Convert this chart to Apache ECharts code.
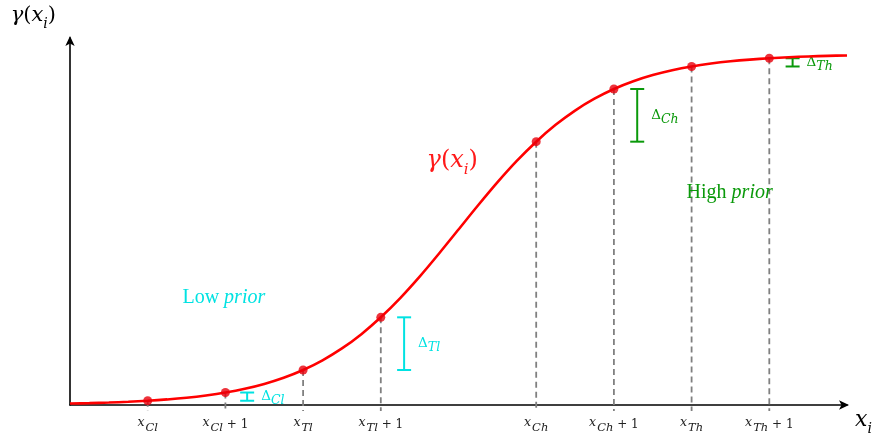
<!DOCTYPE html>
<html>
<head>
<meta charset="utf-8">
<script src="https://cdn.jsdelivr.net/npm/echarts@6/dist/echarts.min.js"></script>
<style>
  html, body { margin: 0; padding: 0; background: #fff; }
  #chart { width: 885px; height: 434px; }
</style>
</head>
<body>
<div id="chart"></div>
<script>
// Sigmoid response gamma(x_i), sampled every quarter step
const xSamples = [0, 0.25, 0.5, 0.75, 1, 1.25, 1.5, 1.75, 2, 2.25, 2.5, 2.75, 3, 3.25, 3.5, 3.75,
                  4, 4.25, 4.5, 4.75, 5, 5.25, 5.5, 5.75, 6, 6.25, 6.5, 6.75, 7, 7.25, 7.5, 7.75,
                  8, 8.25, 8.5, 8.75, 9, 9.25, 9.5, 9.75, 10];
const gammaSamples = [0.0039, 0.0051, 0.0067, 0.0088, 0.0116, 0.0152, 0.0199, 0.0261, 0.0340, 0.0443,
                      0.0575, 0.0743, 0.0954, 0.1218, 0.1541, 0.1930, 0.2389, 0.2914, 0.3499, 0.4129,
                      0.4782, 0.5435, 0.6065, 0.6650, 0.7175, 0.7634, 0.8023, 0.8346, 0.8610, 0.8821,
                      0.8989, 0.9121, 0.9224, 0.9303, 0.9365, 0.9412, 0.9448, 0.9476, 0.9497, 0.9513,
                      0.9525];

// Marked positions on the x axis and their tick labels
const markX = [1, 2, 3, 4, 6, 7, 8, 9];
const markGamma = [0.0116, 0.0340, 0.0954, 0.2389, 0.7175, 0.8610, 0.9224, 0.9448];
const tickBase = ['Cl', 'Cl', 'Tl', 'Tl', 'Ch', 'Ch', 'Th', 'Th'];
const tickPlusOne = [false, true, false, true, false, true, false, true];

// Delta brackets: x position, lower gamma, upper gamma, subscript, colour
const deltaX = [2.28, 4.3, 7.3, 9.3];
const deltaLow = [0.0116, 0.0954, 0.7175, 0.9224];
const deltaHigh = [0.0340, 0.2389, 0.8610, 0.9448];
const deltaSub = ['Cl', 'Tl', 'Ch', 'Th'];
const deltaColor = ['#00e2e2', '#00e2e2', '#0a990a', '#0a990a'];

// Free text annotations
const noteX = [4.92, 1.98, 8.49];
const noteY = [0.66, 0.292, 0.578];
const noteKind = ['curve', 'low', 'high'];

const MATH = '"DejaVu Serif", "Liberation Serif", serif';
const SERIF = '"Liberation Serif", "DejaVu Serif", serif';
const CYAN = '#00e2e2';
const GREEN = '#0a990a';

const chart = echarts.init(document.getElementById('chart'));

const curveData = xSamples.map((x, i) => [x, gammaSamples[i]]);
const markData = markX.map((x, i) => [x, markGamma[i]]);
const deltaData = deltaX.map((x, i) => [x, deltaLow[i], deltaHigh[i], i]);
const noteData = noteX.map((x, i) => [x, noteY[i], i]);

// rich styles for "base + subscript" math text; subscripts sit on the line bottom,
// base glyphs are lifted by bottom padding
function mathRich(size, subSize, lift, color, key) {
  const c = {};
  c[key] = color;
  return {
    g: Object.assign({ fontFamily: MATH, fontStyle: 'italic', fontSize: size, verticalAlign: 'bottom', padding: [0, 0, lift, 0] }, c),
    u: Object.assign({ fontFamily: MATH, fontSize: size, verticalAlign: 'bottom', padding: [0, 0, lift, 0] }, c),
    x: Object.assign({ fontFamily: MATH, fontStyle: 'italic', fontSize: size, verticalAlign: 'bottom', padding: [0, 0, lift, 0] }, c),
    s: Object.assign({ fontFamily: MATH, fontStyle: 'italic', fontSize: subSize, verticalAlign: 'bottom', padding: [0, 0, 0, 0] }, c)
  };
}

const tickRich = {
  x: { fontFamily: MATH, fontStyle: 'italic', fontSize: 12.5, color: '#222', verticalAlign: 'bottom', padding: [0, 0, 5, 0] },
  s: { fontFamily: MATH, fontStyle: 'italic', fontSize: 11.5, color: '#222', verticalAlign: 'bottom', padding: [0, 0, 0, 1] },
  p: { fontFamily: MATH, fontSize: 12, color: '#222', verticalAlign: 'bottom', padding: [0, 0, 3, 0] }
};

const option = {
  animation: false,
  grid: { left: 70, right: 38, top: 38, bottom: 29, outerBoundsMode: 'none', containLabel: false },
  xAxis: {
    type: 'value',
    min: 0, max: 10, interval: 1,
    name: '{x|x}{s|i}',
    nameLocation: 'end',
    nameGap: 8,
    nameTextStyle: {
      verticalAlign: 'top',
      padding: [4, 0, 0, 0],
      rich: mathRich(22, 14, 5, '#000', 'color')
    },
    axisLine: { show: true, symbol: ['none', 'arrow'], symbolSize: [7, 10], symbolOffset: [0, 2],
                lineStyle: { color: '#000', width: 1.6 } },
    axisTick: { show: false },
    splitLine: { show: false },
    axisLabel: {
      margin: 11,
      formatter: function (v) {
        const i = markX.indexOf(v);
        if (i < 0) return '';
        return '{x|x}{s|' + tickBase[i] + '}' + (tickPlusOne[i] ? '{p| + 1}' : '');
      },
      rich: tickRich
    }
  },
  yAxis: {
    type: 'value',
    min: 0, max: 1,
    name: '{g|γ}{u|(}{x|x}{s|i}{u|)}',
    nameLocation: 'end',
    nameGap: 7,
    nameTextStyle: {
      align: 'right',
      padding: [0, 14, 0, 0],
      rich: mathRich(21, 14, 5, '#000', 'color')
    },
    axisLine: { show: true, symbol: ['none', 'arrow'], symbolSize: [7, 10], symbolOffset: [0, 2],
                lineStyle: { color: '#000', width: 1.6 } },
    axisTick: { show: false },
    axisLabel: { show: false },
    splitLine: { show: false }
  },
  series: [
    {
      // dashed guides from each marked point down through the axis
      type: 'custom',
      z: 1,
      data: markData,
      renderItem: function (params, api) {
        const top = api.coord([api.value(0), api.value(1)]);
        const base = api.coord([api.value(0), 0]);
        return {
          type: 'line',
          shape: { x1: top[0], y1: top[1], x2: base[0], y2: base[1] + 6 },
          style: { stroke: '#808080', lineWidth: 1.8, lineDash: [6, 4] }
        };
      }
    },
    {
      type: 'line',
      z: 3,
      data: curveData,
      smooth: 0.3,
      showSymbol: false,
      lineStyle: { color: '#ff0000', width: 2.6 }
    },
    {
      type: 'scatter',
      z: 4,
      data: markData,
      symbolSize: 9,
      itemStyle: { color: '#e8000b' }
    },
    {
      // Delta brackets with their labels
      type: 'custom',
      z: 2,
      data: deltaData,
      renderItem: function (params, api) {
        const i = api.value(3);
        const col = deltaColor[i];
        const lo = api.coord([api.value(0), api.value(1)]);
        const hi = api.coord([api.value(0), api.value(2)]);
        const cx = lo[0];
        const w = 7;
        const ls = { stroke: col, lineWidth: 2 };
        return {
          type: 'group',
          children: [
            { type: 'line', shape: { x1: cx, y1: lo[1], x2: cx, y2: hi[1] }, style: ls },
            { type: 'line', shape: { x1: cx - w, y1: lo[1], x2: cx + w, y2: lo[1] }, style: ls },
            { type: 'line', shape: { x1: cx - w, y1: hi[1], x2: cx + w, y2: hi[1] }, style: ls },
            {
              type: 'text',
              style: {
                x: cx + 14, y: (lo[1] + hi[1]) / 2 + 2,
                text: '{u|Δ}{s|' + deltaSub[i] + '}',
                verticalAlign: 'middle',
                align: 'left',
                rich: mathRich(13.5, 12.5, 4, col, 'fill')
              }
            }
          ]
        };
      }
    },
    {
      // text annotations
      type: 'custom',
      z: 5,
      data: noteData,
      renderItem: function (params, api) {
        const p = api.coord([api.value(0), api.value(1)]);
        const kind = noteKind[api.value(2)];
        let text, rich;
        if (kind === 'curve') {
          text = '{g|γ}{u|(}{x|x}{s|i}{u|)}';
          rich = mathRich(24, 15, 5, '#ff1a1a', 'fill');
        } else {
          const col = kind === 'low' ? CYAN : GREEN;
          text = '{a|' + (kind === 'low' ? 'Low' : 'High') + ' }{b|prior}';
          rich = {
            a: { fontFamily: SERIF, fontSize: 20, fill: col },
            b: { fontFamily: SERIF, fontStyle: 'italic', fontSize: 20, fill: col }
          };
        }
        return {
          type: 'text',
          style: { x: p[0], y: p[1], text: text, rich: rich, align: 'center', verticalAlign: 'middle' }
        };
      }
    }
  ]
};

chart.setOption(option);
</script>
</body>
</html>
